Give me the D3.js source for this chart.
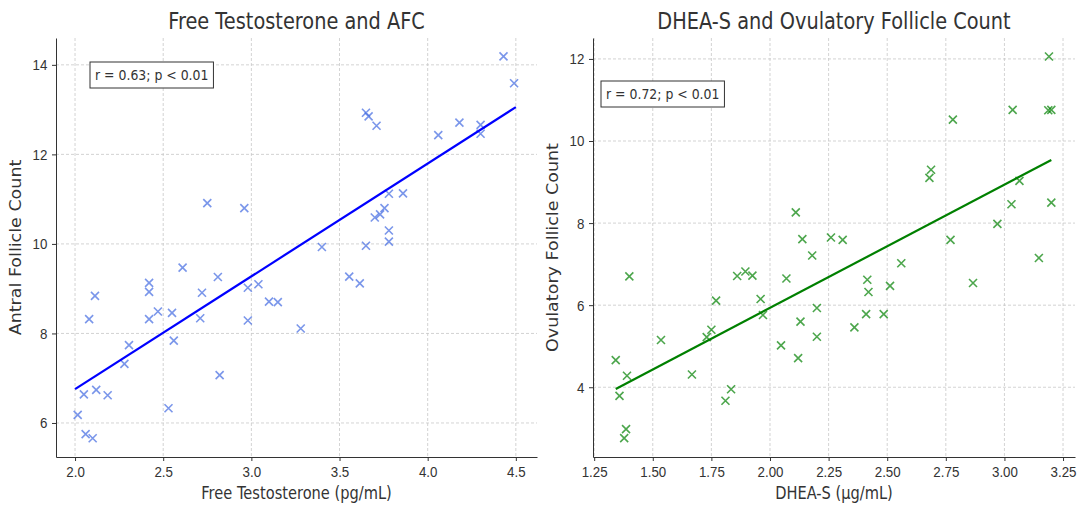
<!DOCTYPE html>
<html>
<head>
<meta charset="utf-8">
<script src="https://cdn.jsdelivr.net/npm/d3@7"></script>
<style>
  body { margin: 0; background: #fff; }
  svg { font-family: "DejaVu Sans", sans-serif; }
  .grid line { stroke: #c8c8c8; stroke-dasharray: 3,2; stroke-width: 0.8; }
  .axis path, .axis line { stroke: #333; }
  .axis text { fill: #333; font-size: 15.5px; }
</style>
</head>
<body>
<svg id="chart" width="1083" height="505"></svg>
<script>
'use strict';

// Free testosterone (pg/mL) vs antral follicle count
const ftX = [2.015,2.05,2.06,2.10,2.12,2.185,2.113,2.08,2.306,2.28,2.42,2.42,2.42,2.47,2.55,2.56,2.53,2.61,2.72,2.71,
  2.81,2.82,2.98,3.04,2.98,3.10,3.15,3.28,2.75,2.96,4.43,4.49,3.65,3.665,3.71,4.06,4.18,4.30,4.30,3.78,
  3.86,3.755,3.70,3.73,3.78,3.78,3.65,3.40,3.555,3.615];
const afcY = [6.18,6.64,5.75,5.66,6.74,6.62,8.84,8.32,7.74,7.32,9.13,8.93,8.32,8.49,8.46,7.84,6.33,9.47,8.91,8.34,
  9.26,7.07,9.02,9.10,8.29,8.71,8.70,8.11,10.91,10.80,14.19,13.59,12.93,12.85,12.64,12.43,12.71,12.66,12.46,11.12,
  11.13,10.80,10.59,10.66,10.30,10.05,9.96,9.93,9.27,9.12];
const ftFit = {slope: 2.52, intercept: 1.715, x0: 2.0, x1: 4.5};
const ftTicksX = [2.0,2.5,3.0,3.5,4.0,4.5];
const ftTicksY = [6,8,10,12,14];

// DHEA-S (ug/mL) vs ovulatory follicle count
const dheaX = [2.11,2.138,2.26,3.19,3.035,3.187,3.20,2.78,2.687,2.68,3.064,3.03,3.20,2.97,2.77,2.31,2.18,1.40,1.86,1.895,
  1.925,2.07,1.77,1.96,1.97,2.20,2.13,2.20,1.535,1.75,1.73,2.047,2.12,1.342,1.39,1.667,1.358,1.834,1.81,1.386,
  1.378,3.147,2.56,2.866,2.415,2.42,2.512,2.41,2.485,2.36];
const ofcY = [8.26,7.61,7.65,12.06,10.76,10.75,10.76,10.52,9.30,9.10,9.03,8.46,8.50,7.98,7.59,7.59,7.21,6.70,6.71,6.82,
  6.72,6.65,6.11,6.15,5.76,5.93,5.60,5.23,5.15,5.40,5.22,5.02,4.71,4.66,4.28,4.31,3.79,3.95,3.67,2.98,
  2.76,7.15,7.02,6.54,6.62,6.32,6.47,5.78,5.78,5.46];
const dheaFit = {slope: 3.005, intercept: -0.077, x0: 1.342, x1: 3.20};
const dheaTicksX = [1.25,1.50,1.75,2.00,2.25,2.50,2.75,3.00,3.25];
const dheaTicksY = [4,6,8,10,12];

const SQ = 0.86; // horizontal squeeze of the source figure's text
const svg = d3.select('#chart');

// text placed at (x,y) and squeezed horizontally around that point
function label(g,x,y,str,size,anchor,rot){
  return g.append('text')
    .attr('transform',`translate(${x},${y})${rot?' rotate(-90)':''} scale(${rot?1:SQ},${rot?SQ:1})`)
    .attr('text-anchor',anchor||'middle').attr('font-size',size).attr('fill','#333').text(str);
}

function panel(opt){
  const {left,right,top,bottom,xDomain,yDomain,xs,ys,fit,ticksX,ticksY,fmtX,color,lineColor,
         title,xLabel,yLabel,note,noteX,noteY}=opt;
  const x = d3.scaleLinear().domain(xDomain).range([left,right]);
  const y = d3.scaleLinear().domain(yDomain).range([bottom,top]);
  const g = svg.append('g');

  // grid
  const grid = g.append('g').attr('class','grid');
  grid.selectAll('.gx').data(ticksX).join('line')
    .attr('x1',d=>x(d)).attr('x2',d=>x(d)).attr('y1',top).attr('y2',bottom);
  grid.selectAll('.gy').data(ticksY).join('line')
    .attr('x1',left).attr('x2',right).attr('y1',d=>y(d)).attr('y2',d=>y(d));

  // axes
  g.append('g').attr('class','axis').attr('transform',`translate(0,${bottom})`)
    .call(d3.axisBottom(x).tickValues(ticksX).tickFormat(fmtX).tickSize(4).tickPadding(5).tickSizeOuter(0))
    .selectAll('text').attr('transform',`scale(${SQ},1)`);
  g.append('g').attr('class','axis').attr('transform',`translate(${left},0)`)
    .call(d3.axisLeft(y).tickValues(ticksY).tickFormat(d3.format('d')).tickSize(4).tickPadding(6).tickSizeOuter(0))
    .selectAll('text').attr('transform',`scale(${SQ},1)`);

  // points as x markers
  const pts = xs.map((v,i)=>[x(v),y(ys[i])]);
  const s = 4;
  g.append('g').selectAll('path').data(pts).join('path')
    .attr('d',d=>`M${d[0]-s},${d[1]-s}L${d[0]+s},${d[1]+s}M${d[0]-s},${d[1]+s}L${d[0]+s},${d[1]-s}`)
    .attr('stroke',color).attr('stroke-width',1.6).attr('fill','none');

  // fit line
  g.append('line')
    .attr('x1',x(fit.x0)).attr('y1',y(fit.slope*fit.x0+fit.intercept))
    .attr('x2',x(fit.x1)).attr('y2',y(fit.slope*fit.x1+fit.intercept))
    .attr('stroke',lineColor).attr('stroke-width',2.2);

  // annotation box
  const box = g.append('rect')
    .attr('x',noteX).attr('y',noteY).attr('height',26)
    .attr('fill','#fff').attr('stroke','#333').attr('stroke-width',1);
  const t = label(g,noteX+5,noteY+18,note,14.5,'start');
  box.attr('width',t.node().getBBox().width*SQ+10);

  // titles & labels
  label(g,(left+right)/2,29,title,22.5);
  label(g,(left+right)/2,499,xLabel,17);
  label(g,left-35,(top+bottom)/2,yLabel,17.5,'middle',true);
}

panel({left:56,right:537,top:38,bottom:457,
  xDomain:[1.892,4.62],yDomain:[5.24,14.6],xs:ftX,ys:afcY,fit:ftFit,
  ticksX:ftTicksX,ticksY:ftTicksY,fmtX:d3.format('.1f'),
  color:'rgba(65,105,225,0.7)',lineColor:'#0000ff',
  title:'Free Testosterone and AFC',xLabel:'Free Testosterone (pg/mL)',yLabel:'Antral Follicle Count',
  note:'r = 0.63; p < 0.01',noteX:90,noteY:62});

panel({left:593,right:1075,top:38,bottom:457,
  xDomain:[1.245,3.301],yDomain:[2.30,12.51],xs:dheaX,ys:ofcY,fit:dheaFit,
  ticksX:dheaTicksX,ticksY:dheaTicksY,fmtX:d3.format('.2f'),
  color:'rgba(0,128,0,0.7)',lineColor:'#008000',
  title:'DHEA-S and Ovulatory Follicle Count',xLabel:'DHEA-S (µg/mL)',yLabel:'Ovulatory Follicle Count',
  note:'r = 0.72; p < 0.01',noteX:601,noteY:81});
</script>
</body>
</html>
